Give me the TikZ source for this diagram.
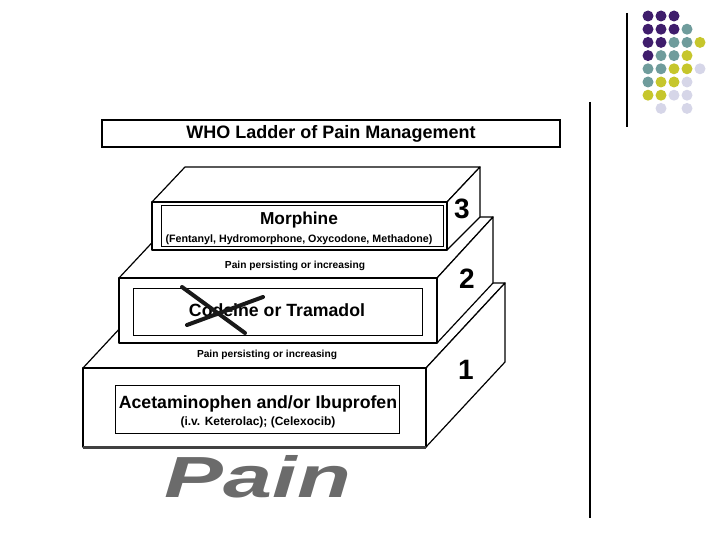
\documentclass[tikz,border=0pt]{standalone}
\usepackage{fontspec}
\setmainfont{Liberation Sans}
\definecolor{dpurple}{HTML}{3F1D6C}
\definecolor{dteal}{HTML}{6F9C9C}
\definecolor{dyellow}{HTML}{C6C62C}
\definecolor{dlav}{HTML}{D6D6E8}
\tikzset{
  face/.style={draw=black, fill=white, line width=1.2pt, line join=round},
  inner/.style={draw=black, line width=0.9pt},
  dot/.style={circle, inner sep=0pt, minimum size=11pt},
  big/.style={font=\fontsize{17.7}{18}\selectfont\bfseries},
  small/.style={font=\fontsize{10.7}{11}\selectfont\bfseries},
  step label/.style={font=\fontsize{10.2}{10}\selectfont\bfseries},
  num/.style={font=\fontsize{28}{28}\selectfont\bfseries},
}
\begin{document}
\begin{tikzpicture}[x=1pt,y=-1pt]
\useasboundingbox (0,0) rectangle (720,540);
% dots
\foreach \c/\r/\col in {0/0/dpurple,1/0/dpurple,2/0/dpurple,
  0/1/dpurple,1/1/dpurple,2/1/dpurple,3/1/dteal,
  0/2/dpurple,1/2/dpurple,2/2/dteal,3/2/dteal,4/2/dyellow,
  0/3/dpurple,1/3/dteal,2/3/dteal,3/3/dyellow,
  0/4/dteal,1/4/dteal,2/4/dyellow,3/4/dyellow,4/4/dlav,
  0/5/dteal,1/5/dyellow,2/5/dyellow,3/5/dlav,
  0/6/dyellow,1/6/dyellow,2/6/dlav,3/6/dlav,
  1/7/dlav,3/7/dlav}
  \node[dot, fill=\col] (d\c\r) at (648+13*\c, 16+13.2*\r) {};
\draw[line width=1.5pt] (627,13) coordinate (la) -- (627,127) coordinate (lb);
\draw[line width=2pt] (590,102) coordinate (lc) -- (590,518) coordinate (ld);
% title
\node[draw, line width=2pt, minimum width=458pt, minimum height=27pt, inner sep=0pt,
  font=\fontsize{18}{18}\selectfont\bfseries] (title) at (331,133.5) {WHO Ladder of Pain Management};
% block 1
\draw[face] (83,368) -- (162,283) -- (505,283) -- (426,368) -- cycle;
\draw[face] (426,368) -- (505,283) -- (505,362) -- (426,447) -- cycle;
\draw[face] (83,368) rectangle (426,447);
\draw[line width=3pt, draw=black!75] (83,447) -- (426,447);
% block 2
\draw[face] (119,278) -- (176,217) -- (493,217) -- (437,278) -- cycle;
\draw[face] (437,278) -- (493,217) -- (493,283) -- (437,343) -- cycle;
\draw[face] (119,278) rectangle (437,343);
% block 3
\draw[face] (152,202) -- (185,167) -- (480,167) -- (447,202) -- cycle;
\draw[face] (447,202) -- (480,167) -- (480,217) -- (447,250) -- cycle;
\draw[face] (152,202) rectangle (447,250);
% inner boxes
\draw[inner] (161,205) rectangle (443,246);
\draw[inner] (133,288) rectangle (422,335);
\draw[inner] (115,385) rectangle (399,433);
% texts
\node[font=\fontsize{17.3}{17}\selectfont\bfseries] (morph) at (299,220) {Morphine};
\node[small] (fent) at (299,240) {(Fentanyl, Hydromorphone, Oxycodone, Methadone)};
\node[big] (cod) at (277,310) {Codeine or Tramadol};
\node[big] (acet) at (258,404) {Acetaminophen and/or Ibuprofen};
\node[font=\fontsize{12}{12}\selectfont\bfseries] (ket) at (258,422) {(i.v. Keterolac); (Celexocib)};
\node[step label] (p1) at (295,266) {Pain persisting or increasing};
\node[step label] (p2) at (267,355) {Pain persisting or increasing};
\node[num] (n3) at (462,209) {3};
\node[num] (n2) at (467,279) {2};
\node[num] (n1) at (466,370) {1};
% cross
\draw[line width=4pt, draw=black!90, line cap=round] (182,287) coordinate (x1) -- (245,333) coordinate (x2);
\draw[line width=4pt, draw=black!90, line cap=round] (187,325) coordinate (x3) -- (263,297) coordinate (x4);
% Pain logo
\node[font=\fontsize{58}{58}\selectfont\bfseries\itshape, inner sep=0pt, text=black!58] (pain) at (258,477)
  {\scalebox{1.52}[1]{Pain}};
\end{tikzpicture}
\end{document}
